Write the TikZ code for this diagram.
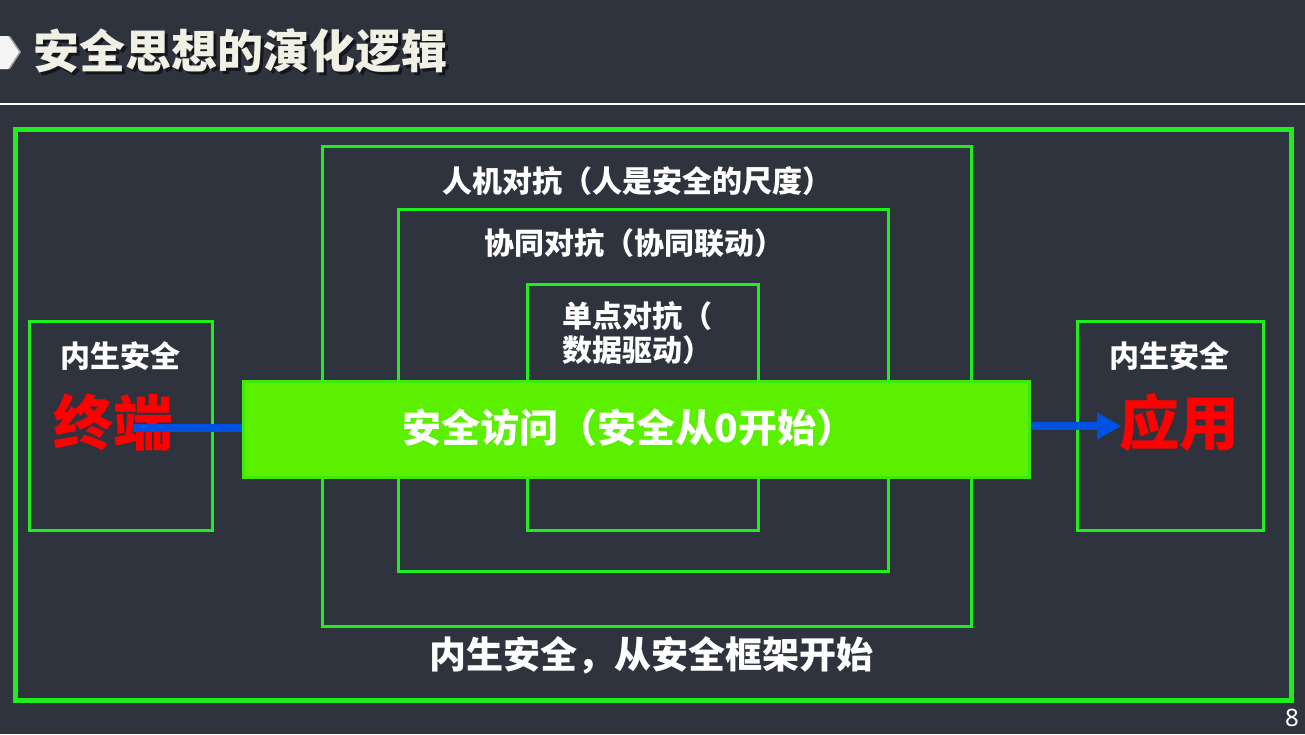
\documentclass[tikz,border=0pt]{standalone}
\usepackage{fontspec}
\newfontfamily\cjk{Noto Sans CJK SC}
\newfontfamily\numfont{Noto Sans}
\usetikzlibrary{arrows.meta}
\definecolor{bgc}{RGB}{47,51,62}
\definecolor{gline}{RGB}{30,238,30}
\definecolor{barfill}{RGB}{90,240,0}
\definecolor{barline}{RGB}{60,235,10}
\definecolor{cream}{RGB}{240,240,228}
\definecolor{shadowc}{RGB}{20,22,28}
\definecolor{arrblue}{RGB}{0,80,225}
\definecolor{redtxt}{RGB}{255,0,0}
\tikzset{
  gbox/.style={draw=gline, line width=3pt, minimum width=#1, anchor=north west, inner sep=0pt},
  wtxt/.style={text=white, font=\cjk\bfseries\fontsize{#1}{#1}\selectfont, inner sep=0pt},
  rtxt/.style={text=redtxt, font=\cjk\bfseries\fontsize{60}{60}\selectfont, inner sep=0pt},
  conn/.style={draw=arrblue, line width=8pt},
}
\newcommand{\shadowtext}[1]{\makebox[0pt][l]{\hspace{3pt}\raisebox{-3pt}{\color{shadowc}#1}}#1}
\begin{document}
\begin{tikzpicture}[x=1pt,y=-1pt]
\useasboundingbox (0,0) rectangle (1305,734);
\fill[bgc] (0,0) rectangle (1305,734);
% title
\fill[gray!70] (2,36) -- (10,36) -- (21,52) -- (10,69) -- (2,69) -- cycle;
\fill[white!92!gray] (0,36) -- (8,36) -- (19,52) -- (8,69) -- (0,69) -- cycle;
\node[anchor=west, text=cream, font=\cjk\bfseries\fontsize{46}{46}\selectfont, inner sep=0pt] (title) at (33,52) {\shadowtext{安全思想的演化逻辑}};
\draw[white, line width=1.2pt] (0,104) -- (1305,104);
% outer frame
\node[gbox=1276pt, minimum height=571pt, line width=5pt] (outer) at (13,127) {};
% nested boxes
\node[gbox=649pt, minimum height=480pt] (hm) at (321,145) {};
\node[gbox=490pt, minimum height=362pt] (co) at (397,208) {};
\node[gbox=231pt, minimum height=246pt] (sp) at (526,283) {};
\node[gbox=183pt, minimum height=209pt] (lb) at (28,320) {};
\node[gbox=186pt, minimum height=209pt] (rb) at (1076,320) {};
% labels
\node[wtxt=30] (hmt) at (637,181) {人机对抗（人是安全的尺度）};
\node[wtxt=30] (cot) at (634,243) {协同对抗（协同联动）};
\node[wtxt=30, anchor=north west, align=left] (spt) at (562,301) {单点对抗（\\[4pt]数据驱动）};
\node[wtxt=30] (lbt) at (120,356) {内生安全};
\node[wtxt=30] (rbt) at (1169,356) {内生安全};
\node[rtxt] (term) at (113,423) {终端};
\node[rtxt] (app) at (1179,423) {应用};
% bar
\node[draw=barline, fill=barfill, line width=3pt, minimum width=786pt, minimum height=96pt, anchor=north west, inner sep=0pt] (bar) at (242,380) {};
\node[wtxt=39] (bart) at (629,428) {安全访问（安全从0开始）};
% connectors
\coordinate (ls) at (133,428);
\coordinate (re) at (1121,426);
\draw[conn] (ls) -- (ls -| bar.west);
\draw[conn, -{Triangle[length=24pt,width=26pt]}] (re -| bar.east) -- (re);
% bottom text
\node[wtxt=37] (bot) at (651,655) {内生安全，从安全框架开始};
\node[text=white, font=\numfont\fontsize{24}{24}\selectfont, inner sep=0pt] (pg) at (1292,718) {8};
\end{tikzpicture}
\end{document}
